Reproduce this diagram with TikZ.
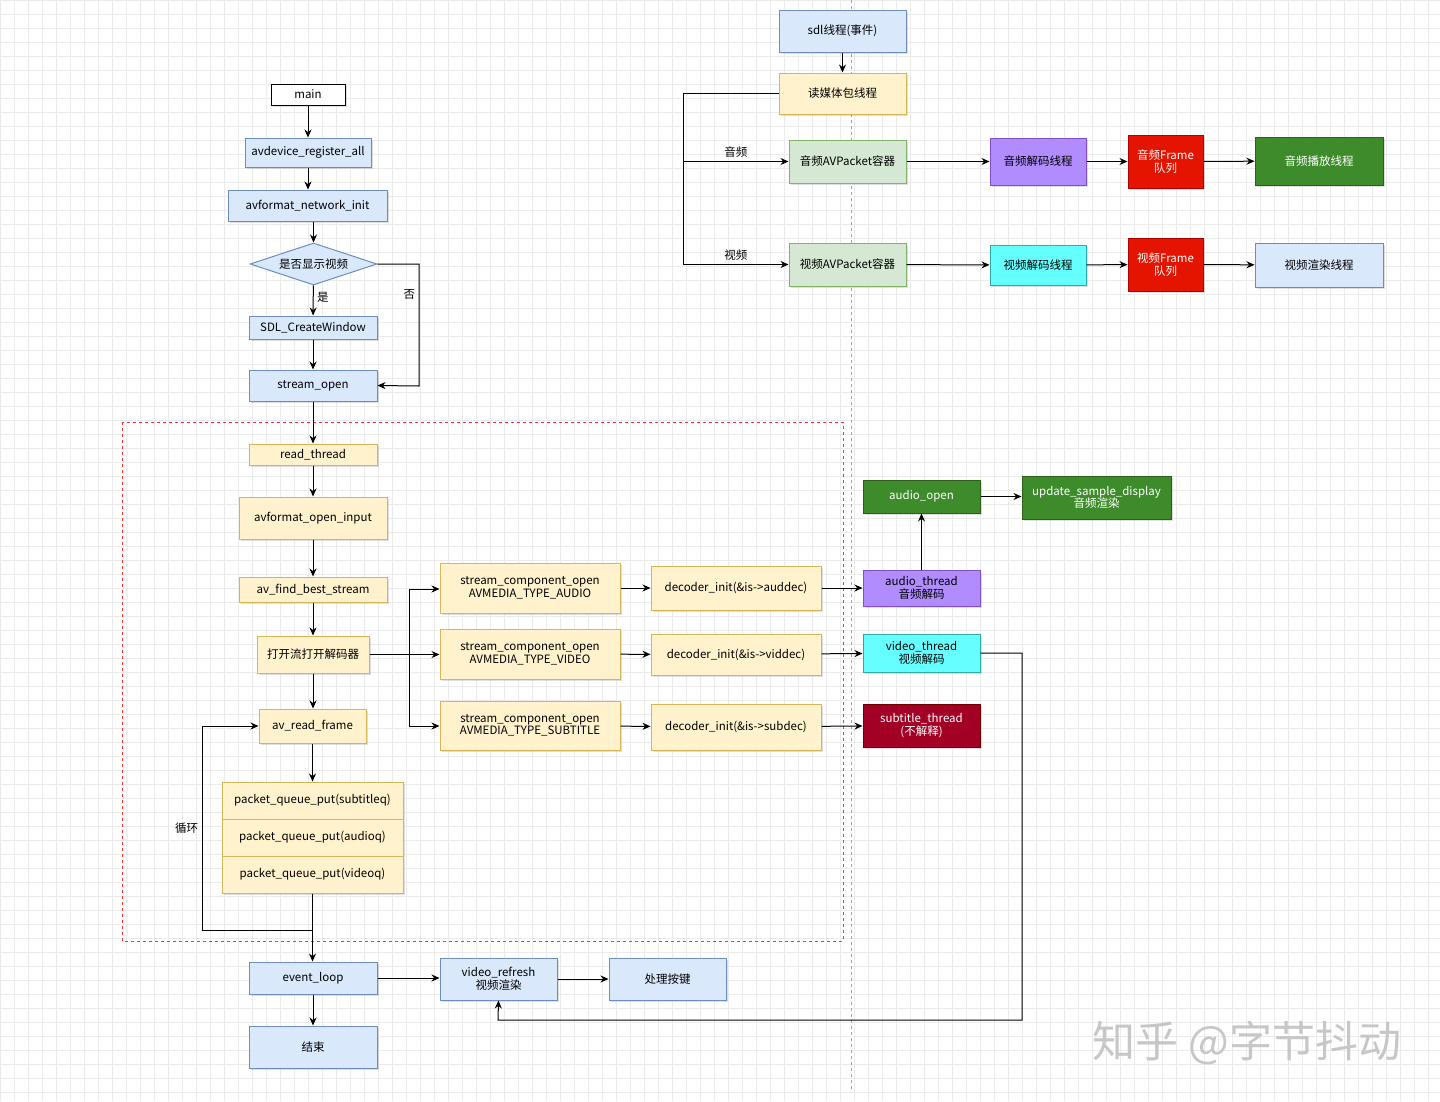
\documentclass[tikz,border=0pt]{standalone}
\usepackage{fontspec}
\setmainfont{Noto Sans CJK SC}
\usetikzlibrary{shapes.geometric,arrows.meta,shadows}
\definecolor{bF}{HTML}{DAE8FC}\definecolor{bD}{HTML}{6C8EBF}
\definecolor{yF}{HTML}{FFF2CC}\definecolor{yD}{HTML}{D6B656}
\definecolor{gF}{HTML}{D5E8D4}\definecolor{gD}{HTML}{82B366}
\definecolor{pF}{HTML}{B08CFF}\definecolor{pD}{HTML}{7F4FD0}
\definecolor{cF}{HTML}{66FFFF}\definecolor{cD}{HTML}{2FA8A8}
\definecolor{rF}{HTML}{E51400}\definecolor{rD}{HTML}{B20000}
\definecolor{dgF}{HTML}{3D8B2A}\definecolor{dgD}{HTML}{2D6016}
\definecolor{drF}{HTML}{A20025}\definecolor{drD}{HTML}{6F0000}
\begin{document}
\begin{tikzpicture}[x=1pt,y=-1pt,
 font=\fontsize{11.5}{12.5}\selectfont,
 bx/.style={draw, line width=1pt, align=center, inner sep=1pt, drop shadow={shadow xshift=2pt,shadow yshift=-2pt,opacity=0.25}},
 B/.style={bx,fill=bF,draw=bD}, Y/.style={bx,fill=yF,draw=yD}, G/.style={bx,fill=gF,draw=gD},
 P/.style={bx,fill=pF,draw=pD}, C/.style={bx,fill=cF,draw=cD}, R/.style={bx,fill=rF,draw=rD,text=white},
 DG/.style={bx,fill=dgF,draw=dgD,text=white}, DR/.style={bx,fill=drF,draw=drD,text=white},
 sz/.style 2 args={minimum width=#1pt, minimum height=#2pt},
 ar/.style={-{Stealth[length=8pt,width=7pt]}, line width=1pt},
 ln/.style={line width=1pt}]
\useasboundingbox (0,0) rectangle (1440,1101);
\fill[white] (0,0) rectangle (1440,1101);
\foreach \i in {0,14,...,1440} \draw[black!8, line width=0.5pt] (\i,0) -- (\i,1101);
\foreach \i in {0,14,...,1100} \draw[black!8, line width=0.5pt] (0,\i) -- (1440,\i);
\draw[gray!70, dashed, line width=0.8pt] (851,0) -- (851,1090);
\draw[red!80, dashed, line width=1pt] (122,422) rectangle (843,941);
% left column
\node[bx,fill=white,sz={74}{21}] (main) at (308,94.5) {main};
\node[B,sz={126}{29}] (avd) at (308,152.5) {avdevice\_register\_all};
\node[B,sz={159}{31}] (avf) at (307.5,205.5) {avformat\_network\_init};
\node[diamond,aspect=3,draw=bD,fill=bF,line width=1pt,inner sep=0pt,minimum width=127pt,minimum height=42pt] (dia) at (313.5,264) {是否显示视频};
\node[B,sz={128}{23}] (sdl) at (313,327.5) {SDL\_CreateWindow};
\node[B,sz={128}{31}] (so) at (313,385.5) {stream\_open};
\node[Y,sz={128}{21}] (rt) at (313,454.5) {read\_thread};
\node[Y,sz={148}{42}] (aoi) at (313,518) {avformat\_open\_input};
\node[Y,sz={148}{25}] (afb) at (313,589.5) {av\_find\_best\_stream};
\node[Y,sz={112}{37}] (dk) at (313,654.5) {打开流打开解码器};
\node[Y,sz={107}{34}] (arf) at (312.5,726) {av\_read\_frame};
\node[Y,sz={181}{37}] (pq1) at (312.5,800.5) {packet\_queue\_put(subtitleq)};
\node[Y,sz={181}{37}] (pq2) at (312.5,837.5) {packet\_queue\_put(audioq)};
\node[Y,sz={181}{37}] (pq3) at (312.5,874.5) {packet\_queue\_put(videoq)};
\node[B,sz={128}{32}] (ev) at (313,978) {event\_loop};
\node[B,sz={128}{42}] (end) at (313,1047) {结束};
\node[B,sz={117}{42}] (vr) at (498.5,979) {video\_refresh\\视频渲染};
\node[B,sz={117}{42}] (kb) at (667.5,979) {处理按键};
% stream component
\node[Y,sz={180}{50}] (sca) at (530,588) {stream\_component\_open\\AVMEDIA\_TYPE\_AUDIO};
\node[Y,sz={180}{50}] (scv) at (530,654) {stream\_component\_open\\AVMEDIA\_TYPE\_VIDEO};
\node[Y,sz={180}{49}] (scs) at (530,725.5) {stream\_component\_open\\AVMEDIA\_TYPE\_SUBTITLE};
\node[Y,sz={170}{44}] (dia1) at (736,588) {decoder\_init(\&is->auddec)};
\node[Y,sz={170}{41}] (dia2) at (736,654.5) {decoder\_init(\&is->viddec)};
\node[Y,sz={170}{46}] (dia3) at (736,727) {decoder\_init(\&is->subdec)};
\node[P,sz={117}{36}] (at) at (921.5,588) {audio\_thread\\音频解码};
\node[C,sz={117}{38}] (vt) at (921.5,653) {video\_thread\\视频解码};
\node[DR,sz={117}{43}] (st) at (921.5,725.5) {subtitle\_thread\\(不解释)};
\node[DG,sz={117}{33}] (ao) at (921.5,496.5) {audio\_open};
\node[DG,sz={149}{43}] (usd) at (1096.5,497.5) {update\_sample\_display\\音频渲染};
% top right
\node[B,sz={127}{42}] (sdlt) at (842.5,31) {sdl线程(事件)};
\node[Y,sz={127}{41}] (rd) at (842.5,93.5) {读媒体包线程};
\node[G,sz={117}{43}] (apk) at (847.5,161.5) {音频AVPacket容器};
\node[G,sz={117}{43}] (vpk) at (847.5,264.5) {视频AVPacket容器};
\node[P,sz={96}{47}] (adt) at (1038,161.5) {音频解码线程};
\node[C,sz={96}{40}] (vdt) at (1038,265) {视频解码线程};
\node[R,sz={75}{53}] (afq) at (1165.5,161.5) {音频Frame\\队列};
\node[R,sz={75}{53}] (vfq) at (1165.5,264.5) {视频Frame\\队列};
\node[DG,sz={128}{48}] (ap) at (1319,161) {音频播放线程};
\node[B,sz={128}{44}] (vrt) at (1319,265) {视频渲染线程};
% edges left
\draw[ar] (main) -- (avd);
\draw[ar] (avd) -- (avf.north -| avd);
\draw[ar] (avf.south -| dia) -- (dia);
\draw[ar] (dia) -- node[pos=0.4,right]{是} (sdl);
\draw[ar] (sdl) -- (so);
\draw[ar] (dia.east) -- (419,264) -- node[pos=0.25,left]{否} (419,386) -- (so.east);
\draw[ar] (so) -- (rt);
\draw[ar] (rt) -- (aoi);
\draw[ar] (aoi) -- (afb);
\draw[ar] (afb) -- (dk);
\draw[ar] (dk) -- (arf.north -| dk);
\draw[ar] (arf) -- (pq1);
\draw[ar] (pq3.south) -- (ev.north -| pq3);
\draw[ar] (312.5,930) -- (202,930) -- node[pos=0.5,left]{循环} (202,726) -- (arf.west);
\draw[ar] (ev) -- (end);
\draw[ar] (ev) -- (vr.west |- ev);
\draw[ar] (vr) -- (kb);
\draw[ln] (dk.east) -- (409,654.5);
\draw[ar] (409,589) -- (sca.west |- 0,589);
\draw[ar] (409,589) -- (409,726) -- (scs.west |- 0,726);
\draw[ar] (409,654.5) -- (scv.west |- 0,654.5);
\draw[ar] (sca) -- (dia1);
\draw[ar] (scv) -- (dia2);
\draw[ar] (scs) -- (dia3);
\draw[ar] (dia1) -- (at);
\draw[ar] (dia2) -- (vt);
\draw[ar] (dia3) -- (st);
\draw[ar] (at) -- (ao);
\draw[ar] (ao) -- (usd.west |- ao);
\draw[ar] (vt.east) -- (1022,653) -- (1022,1020) -- (498,1020) -- (vr.south);
% edges top right
\draw[ar] (sdlt) -- (rd);
\draw[ar] (rd.west) -- (683,93.5) -- (683,264.5) -- node[pos=0.5,above]{视频} (vpk.west);
\draw[ar] (683,161.5) -- node[pos=0.5,above]{音频} (apk.west);
\draw[ar] (apk) -- (adt);
\draw[ar] (adt) -- (afq);
\draw[ar] (afq) -- (ap);
\draw[ar] (vpk) -- (vdt);
\draw[ar] (vdt) -- (vfq);
\draw[ar] (vfq) -- (vrt);
\node[text=black!22,font=\fontsize{43}{43}\selectfont] (wm) at (1247,1043) {知乎 @字节抖动};
\end{tikzpicture}
\end{document}
